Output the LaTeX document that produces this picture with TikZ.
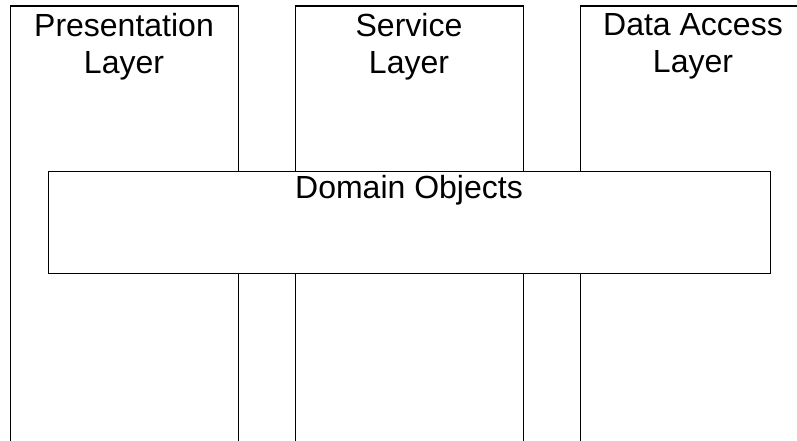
\documentclass[tikz,border=0pt]{standalone}
\usepackage{fontspec}
\setmainfont{Liberation Sans}
\begin{document}
\begin{tikzpicture}[x=1pt,y=-1pt,
  layerbox/.style={draw=black,line width=1.2pt,fill=white,anchor=north west,inner sep=0pt},
  caption/.style={font=\fontsize{32}{37}\selectfont,align=center,inner sep=0pt,anchor=north},
]
\useasboundingbox (0,0) rectangle (797,441);
\clip (0,0) rectangle (797,441);
\fill[white] (0,0) rectangle (797,441);

% vertical layers, open at the bottom
\node[layerbox,minimum width=228pt,minimum height=470pt] (pres) at (10,5.5) {};
\node[layerbox,minimum width=228pt,minimum height=470pt] (serv) at (295,5.5) {};
\node[layerbox,minimum width=228pt,minimum height=470pt] (data) at (580,5.5) {};

\node[caption] (presl) at (124,13) {Presentation\\Layer};
\node[caption] (servl) at (409,13) {Service\\Layer};
\node[caption] (datal) at (693,13) {Data Access\\Layer};

% shared domain objects spanning all layers
\node[layerbox,minimum width=722pt,minimum height=102pt] (dom) at (48,170.5) {};
\node[font=\fontsize{32}{37}\selectfont,inner sep=0pt,anchor=base] (doml) at (409,198) {Domain Objects};
\end{tikzpicture}
\end{document}
